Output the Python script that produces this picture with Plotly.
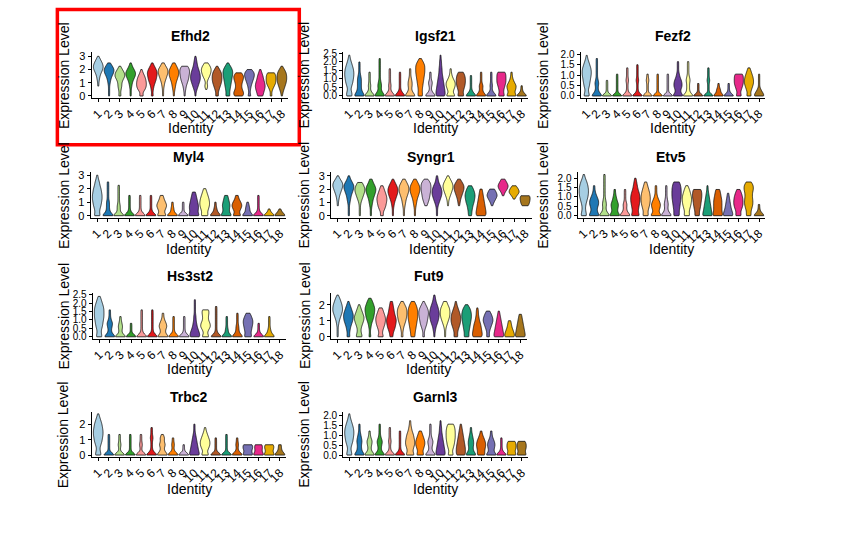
import plotly.graph_objects as go

W, H = 843, 535

CLUSTERS = [str(i) for i in range(1, 19)]
COLORS = ["#A6CEE3", "#1F78B4", "#B2DF8A", "#33A02C", "#FB9A99", "#E31A1C",
          "#FDBF6F", "#FF7F00", "#CAB2D6", "#6A3D9A", "#FFFF99", "#B15928",
          "#1B9E77", "#D95F02", "#7570B3", "#E7298A", "#E6AB02", "#A6761D"]

GENES = ["Efhd2", "Igsf21", "Fezf2", "Myl4", "Syngr1", "Etv5",
         "Hs3st2", "Fut9", "Trbc2", "Garnl3"]
# grid step (expression units) of the density strings below
STEP = [0.25, 0.2, 0.15, 0.25, 0.25, 0.2, 0.2, 0.2, 0.225, 0.175]
# maximum expression per gene (axis data max)
YMAX = [3.15, 2.45, 2.0, 3.05, 3.1, 2.2, 2.5, 2.62, 2.7, 2.1]
TICKS = [
    ["0", "1", "2", "3"],
    ["0.0", "0.5", "1.0", "1.5", "2.0", "2.5"],
    ["0.0", "0.5", "1.0", "1.5", "2.0"],
    ["0", "1", "2", "3"],
    ["0", "1", "2", "3"],
    ["0.0", "0.5", "1.0", "1.5", "2.0"],
    ["0.0", "0.5", "1.0", "1.5", "2.0", "2.5"],
    ["0", "1", "2"],
    ["0", "1", "2"],
    ["0.0", "0.5", "1.0", "1.5", "2.0"],
]

# Relative cell density per cluster, one digit per expression level k*STEP (from 0 up)
EFHD2 = ["0001123589741", "11112358962", "2123358741", "11123589631", "427998631",
         "21235789741", "11123579952", "11234689852", "1123578996", "1135799864321",
         "00131368973", "3246899851", "43456789851", "89656895", "312357994",
         "568986531", "21369997", "1246899851"]
IGSF21 = ["6535789986421", "95333321111", "93121111", "942321111111", "931211111",
          "93111111", "942332111", "544567899962", "93123111", "9987654332211",
          "835774211", "74689985", "9311111", "93231111", "93121111",
          "74579998", "84674211", "9211"]
FEZF2 = ["64356789986421", "9422321111111", "911111", "91111111", "9211121111",
         "92111211111", "91111211", "91111111", "91111111", "944665321111",
         "932223211111", "91111", "9111121111", "93311", "92111",
         "63579998", "5357998642", "96311111"]
MYL4 = ["6457899875421", "93222111111", "9222111111", "9211111", "9211111",
        "9211111", "7357532", "92211", "91111", "85665432",
        "757998642", "93211", "8445432", "7368632", "93321",
        "9211111", "921", "931"]
SYNGR1 = ["0001123579841", "1111234689631", "11112468974", "111234689742", "3257898642",
          "111235799741", "111234689852", "111234689852", "000246789983", "1112468986321",
          "0001124689741", "000123579962", "3345789863", "998765432", "000136974",
          "000000137963", "0000014973", "0006899"]
ETV5 = ["643468998631", "844664211", "932321111111", "83453211", "93231111",
        "74567764321", "6468998642", "835642111", "932321111", "6567899986",
        "646899752", "54678998", "976543211", "86666543", "9754321",
        "64799863", "5468877995", "9211"]
HS3ST2 = ["6446789998642", "932342111", "9223211", "91111", "921111111",
          "921111111", "83354211", "9211111", "9211111", "986432211111",
          "735985566", "9211111111", "9221111", "93221111", "64567753",
          "92111", "9321111", ""]
FUT9 = ["11112357998641", "323468997531", "64346897531", "2112357899752", "6346899753",
        "335789865432", "212357899852", "445678999863", "212467899741", "11235789875321",
        "111246899853", "434689986421", "54567899862", "9987643221", "323579863",
        "987654321", "986432", "98765432"]
TRBC2 = ["6435789987531", "9111111", "9112111", "9111111", "9112111",
         "921112111", "8324231", "921211", "9111", "9765432111",
         "736886421", "911111", "9111111", "921211", "7466",
         "8455", "8466", "9322"]
GARNL3 = ["6435789986421", "9433432111", "93234211", "9323421111", "921121111",
          "92111111", "74577653211", "74688642", "9323421111", "98765432211",
          "6357899986", "8887654321", "943443211", "65676421", "83454211",
          "921111", "74665", "74665"]
DENSITY = [EFHD2, IGSF21, FEZF2, MYL4, SYNGR1, ETV5, HS3ST2, FUT9, TRBC2, GARNL3]

# ---------------- layout (pixels) ----------------
ROW_BOX = [(49, 95.5), (171, 217), (293, 340), (414, 460)]      # top, bottom of panels
ROW_TITLE_Y = [32, 155, 276, 399]
ROW_XLAB_Y = [126, 249, 371, 492]
COL_YLAB_X = [62, 303, 542]
PANELS = [  # (row, col, left, right)
    (0, 0, 90, 287), (0, 1, 342, 527), (0, 2, 580, 765),
    (1, 0, 89, 285), (1, 1, 330, 531), (1, 2, 577, 765),
    (2, 0, 91, 285), (2, 1, 330, 526),
    (3, 0, 90, 285), (3, 1, 342, 527),
]
FONT = "Liberation Sans, Arial, sans-serif"


def px(x):
    return x / W


def py(y):
    return 1 - y / H


def level_samples(s, step):
    vals = []
    for k, ch in enumerate(s):
        vals += [round(k * step, 4)] * int(ch)
    return vals


fig = go.Figure()
annotations = []
layout_axes = {}

for g, gene in enumerate(GENES):
    row, col, left, right = PANELS[g]
    top, bottom = ROW_BOX[row]
    idx = "" if g == 0 else str(g + 1)
    xa, ya = "x" + idx, "y" + idx
    step = STEP[g]
    for c, lab in enumerate(CLUSTERS):
        vals = level_samples(DENSITY[g][c], step)
        if len(set(vals)) < 2:
            continue
        fig.add_trace(go.Violin(
            x=[lab] * len(vals), y=vals, xaxis=xa, yaxis=ya,
            fillcolor=COLORS[c], line=dict(color="#111111", width=0.8),
            width=0.9, spanmode="hard", bandwidth=step * 0.62,
            scalemode="width", points=False, showlegend=False,
            hoverinfo="skip", name=lab,
        ))
    ymax = YMAX[g]
    tickvals = [float(t) for t in TICKS[g]]
    ysize = 10 if "." in TICKS[g][0] else 11
    layout_axes["xaxis" + idx] = dict(
        domain=[px(left), px(right)], anchor=ya, type="category",
        categoryorder="array", categoryarray=CLUSTERS, range=[-0.6, 17.6],
        tickmode="array", tickvals=CLUSTERS, ticktext=CLUSTERS,
        showline=True, linecolor="black", linewidth=1.2, ticks="outside",
        ticklen=3, tickcolor="black", tickwidth=1, tickangle=-45,
        tickfont=dict(family=FONT, size=12, color="black"),
        showgrid=False, zeroline=False, fixedrange=True,
    )
    layout_axes["yaxis" + idx] = dict(
        domain=[py(bottom), py(top)], anchor=xa,
        range=[-0.05 * ymax, 1.05 * ymax], tickvals=tickvals, ticktext=TICKS[g],
        showline=True, linecolor="black", linewidth=1.2, ticks="outside",
        ticklen=3, tickcolor="black", tickwidth=1,
        tickfont=dict(family=FONT, size=ysize, color="black"),
        showgrid=False, zeroline=False, fixedrange=True,
    )
    cx = (left + right) / 2
    annotations.append(dict(
        text="<b>%s</b>" % gene, x=px(cx), y=py(ROW_TITLE_Y[row]),
        xref="paper", yref="paper", showarrow=False, xanchor="center", yanchor="middle",
        font=dict(family=FONT, size=14, color="black")))
    annotations.append(dict(
        text="Identity", x=px(cx), y=py(ROW_XLAB_Y[row]),
        xref="paper", yref="paper", showarrow=False, xanchor="center", yanchor="middle",
        font=dict(family=FONT, size=14, color="black")))
    annotations.append(dict(
        text="Expression Level", x=px(COL_YLAB_X[col]), y=py((top + bottom) / 2),
        xref="paper", yref="paper", showarrow=False, xanchor="center", yanchor="middle",
        textangle=-90, font=dict(family=FONT, size=14, color="black")))

fig.update_layout(
    width=W, height=H, margin=dict(l=0, r=0, t=0, b=0),
    paper_bgcolor="white", plot_bgcolor="white",
    violinmode="overlay", violingap=0, showlegend=False,
    annotations=annotations,
    shapes=[dict(type="rect", xref="paper", yref="paper",
                 x0=px(55.5), x1=px(298), y0=py(143), y1=py(5.5),
                 line=dict(color="#FF0000", width=3.5), fillcolor="rgba(0,0,0,0)")],
    **layout_axes,
)

fig.write_html("out.html")
